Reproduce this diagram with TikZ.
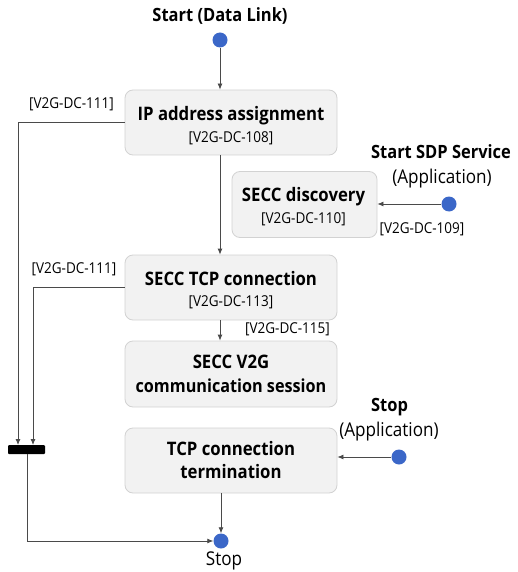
\documentclass[tikz,border=0pt]{standalone}
\usepackage{fontspec}
\setmainfont{Open Sans}[FakeStretch=0.9]
\usetikzlibrary{arrows.meta}
\definecolor{boxfill}{HTML}{F2F2F2}
\definecolor{boxline}{HTML}{D2D2D2}
\definecolor{dotblue}{HTML}{3B67C8}
\definecolor{lin}{HTML}{4A4A4A}
\begin{document}
\begin{tikzpicture}[x=1pt,y=-1pt,
  box/.style={draw=boxline,fill=boxfill,rounded corners=8pt,minimum width=212pt,minimum height=65pt,inner sep=0pt,line width=0.8pt},
  dot/.style={circle,fill=dotblue,minimum size=15pt,inner sep=0pt},
  bar/.style={fill=black,rounded corners=1pt,minimum width=37pt,minimum height=9pt,inner sep=0pt},
  conn/.style={draw=lin,line width=0.8pt,-{Latex[length=6pt,width=5pt]}},
  ref/.style={font=\fontsize{15}{16}\selectfont,inner sep=0pt,anchor=base},
  ttl/.style={font=\fontsize{18.6}{20}\selectfont\bfseries,inner sep=0pt,anchor=base},
  hd/.style={font=\fontsize{18.3}{20}\selectfont\bfseries,inner sep=0pt,anchor=base},
  plain/.style={font=\fontsize{19}{20}\selectfont,inner sep=0pt,anchor=base},
]
\useasboundingbox (0,0) rectangle (517,572);

% headings
\node[hd] (hstart) at (220,21.5) {Start (Data Link)};
\node[hd] (hsdp) at (441,158.5) {Start SDP Service};
\node[plain] (hsdpapp) at (442,183) {(Application)};
\node[hd] (hstop) at (389.5,411.5) {Stop};
\node[plain] (hstopapp) at (389,436.5) {(Application)};
\node[plain] (hend) at (224,565) {Stop};

% dots
\node[dot] (start) at (220,40) {};
\node[dot] (sdp) at (449,204) {};
\node[dot] (stopapp) at (399,457) {};
\node[dot] (stopdot) at (221,541) {};

% boxes
\node[box] (b1) at (231,122.5) {};
\node[box,minimum width=145pt,minimum height=66pt] (b2) at (304.5,204.5) {};
\node[box] (b3) at (231,287.5) {};
\node[box,minimum height=66pt] (b4) at (231,374) {};
\node[box] (b5) at (231,460.5) {};

% box texts
\node[ttl] (b1t) at (231,121) {IP address assignment};
\node[ref] (b1r) at (231,142.3) {[V2G-DC-108]};
\node[ttl] (b2t) at (303.5,201.7) {SECC discovery};
\node[ref] (b2r) at (303.5,223.3) {[V2G-DC-110]};
\node[ttl] (b3t) at (231,285.7) {SECC TCP connection};
\node[ref] (b3r) at (231,306) {[V2G-DC-113]};
\node[ttl] (b4t) at (231,368.3) {SECC V2G};
\node[ttl,font=\fontsize{18}{20}\selectfont\bfseries] (b4u) at (231,392.3) {communication session};
\node[ttl] (b5t) at (231,455) {TCP connection};
\node[ttl] (b5u) at (231,478.3) {termination};

% bar
\node[bar] (bar) at (26.5,449.5) {};
\coordinate (j1) at (18,445);
\coordinate (j2) at (33,445);
\coordinate (j3) at (27,454);

% labels
\node[ref] (r111a) at (71.5,109) {[V2G-DC-111]};
\node[ref] (r111b) at (74,273) {[V2G-DC-111]};
\node[ref] (r109) at (422,233.3) {[V2G-DC-109]};
\node[ref] (r115) at (287.5,333.3) {[V2G-DC-115]};

% connectors
\draw[conn] (start) -- (start |- b1.north);
\draw[conn] (start |- b1.south) -- (start |- b3.north);
\draw[conn] (start |- b3.south) -- (start |- b4.north);
\draw[conn] (sdp) -- (b2.east |- sdp);
\draw[conn] (stopapp) -- (b5.east |- stopapp);
\draw[conn] (b1.west) -| (j1);
\draw[conn] (b3.west) -| (j2);
\draw[conn] (stopdot |- b5.south) -- (stopdot.north);
\draw[conn] (j3) |- (stopdot.west);
\end{tikzpicture}
\end{document}
